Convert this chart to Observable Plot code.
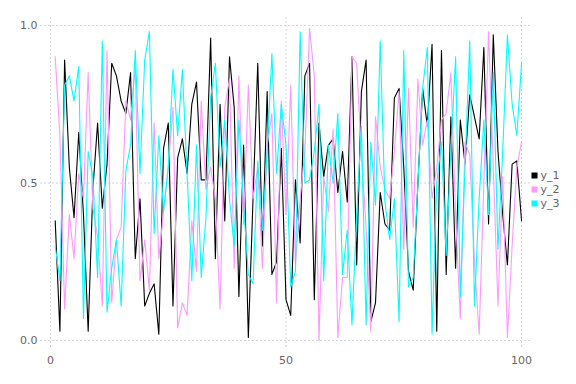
<!DOCTYPE html>
<html>
<head>
<meta charset="utf-8">
<script src="https://cdn.jsdelivr.net/npm/d3@7"></script>
<script src="https://cdn.jsdelivr.net/npm/@observablehq/plot@0.6"></script>
<style>
  html, body { margin: 0; padding: 0; background: #fff; }
  #chart { position: relative; width: 576px; height: 384px; }
</style>
</head>
<body>
<div id="chart"></div>
<script>
const seriesNames = ["y_1", "y_2", "y_3"];
const seriesColors = ["#000000", "#ff99ff", "#00ffff"];
const xTicks = [0, 50, 100];
const yTicks = [0, 0.5, 1.0];

const y1 = [0.38,0.03,0.89,0.55,0.39,0.66,0.40,0.03,0.48,0.69,
            0.42,0.56,0.88,0.84,0.76,0.72,0.85,0.26,0.45,0.11,
            0.15,0.18,0.02,0.61,0.69,0.11,0.58,0.64,0.53,0.75,
            0.82,0.51,0.51,0.96,0.26,0.75,0.38,0.90,0.74,0.14,
            0.62,0.01,0.45,0.88,0.30,0.79,0.21,0.25,0.61,0.13,
            0.08,0.51,0.31,0.84,0.88,0.13,0.69,0.52,0.62,0.64,
            0.47,0.60,0.44,0.90,0.24,0.79,0.89,0.06,0.12,0.47,
            0.37,0.35,0.77,0.80,0.55,0.22,0.16,0.50,0.80,0.68,
            0.94,0.03,0.92,0.21,0.71,0.23,0.70,0.56,0.78,0.71,
            0.64,0.93,0.37,0.97,0.60,0.40,0.24,0.56,0.57,0.38];
const y2 = [0.90,0.65,0.10,0.40,0.26,0.53,0.45,0.85,0.42,0.33,
            0.11,0.92,0.12,0.32,0.36,0.76,0.70,0.87,0.19,0.32,
            0.16,0.69,0.26,0.41,0.55,0.74,0.04,0.12,0.08,0.38,
            0.22,0.76,0.48,0.55,0.45,0.10,0.74,0.83,0.23,0.84,
            0.37,0.81,0.45,0.55,0.23,0.62,0.72,0.12,0.76,0.40,
            0.81,0.24,0.45,0.60,0.99,0.84,0.00,0.52,0.41,0.67,
            0.01,0.20,0.20,0.90,0.88,0.59,0.36,0.03,0.71,0.55,
            0.48,0.45,0.60,0.79,0.29,0.80,0.36,0.83,0.62,0.70,
            0.45,0.55,0.70,0.72,0.85,0.40,0.07,0.63,0.59,0.25,
            0.02,0.50,0.98,0.55,0.11,0.52,0.01,0.30,0.55,0.63];
const y3 = [0.30,0.19,0.81,0.84,0.76,0.87,0.07,0.60,0.52,0.20,
            0.95,0.09,0.23,0.32,0.11,0.54,0.62,0.92,0.53,0.89,
            0.98,0.34,0.65,0.41,0.55,0.86,0.65,0.86,0.53,0.19,
            0.62,0.20,0.39,0.77,0.88,0.55,0.70,0.45,0.30,0.70,
            0.43,0.21,0.18,0.57,0.35,0.60,0.91,0.53,0.75,0.62,
            0.17,0.22,0.98,0.50,0.51,0.60,0.75,0.19,0.62,0.50,
            0.72,0.21,0.35,0.05,0.40,0.68,0.05,0.63,0.43,0.95,
            0.44,0.32,0.45,0.06,0.92,0.17,0.20,0.50,0.80,0.93,
            0.02,0.50,0.63,0.27,0.60,0.90,0.14,0.55,0.95,0.11,
            0.45,0.70,0.40,0.85,0.29,0.60,0.97,0.75,0.65,0.88];

const values = [y1, y2, y3];
const data = seriesNames.flatMap((s, k) =>
  values[k].map((v, i) => ({x: i + 1, y: v, s})));

const gridColor = "#d0d0e0";
const textColor = "#6c606b";

const svg = Plot.plot({
  width: 576,
  height: 384,
  marginLeft: 40,
  marginRight: 46,
  marginTop: 17,
  marginBottom: 36,
  style: {fontFamily: "DejaVu Sans, sans-serif", fontSize: "11px", color: textColor, background: "#fff"},
  x: {domain: [-2.12, 101.9]},
  y: {domain: [-0.025, 1.025]},
  color: {domain: seriesNames, range: seriesColors},
  marks: [
    Plot.ruleY(yTicks, {stroke: gridColor, strokeDasharray: "2,2", strokeWidth: 1}),
    Plot.ruleX(xTicks, {stroke: gridColor, strokeDasharray: "2,2", strokeWidth: 1}),
    Plot.axisY(yTicks, {tickSize: 0, tickPadding: 3, tickFormat: d3.format(".1f"), label: null, fill: textColor}),
    Plot.axisX(xTicks, {tickSize: 0, tickPadding: 8, tickFormat: d => String(d), label: null, fill: textColor}),
    Plot.line(data, {x: "x", y: "y", z: "s", stroke: "s", strokeWidth: 1.1})
  ]
});

document.getElementById("chart").appendChild(svg);

// legend
const lg = d3.select(svg).append("g").attr("class", "legend").attr("text-anchor", "start");
seriesNames.forEach((name, k) => {
  const cy = 175.5 + k * 14;
  lg.append("rect").attr("x", 531.5).attr("y", cy - 3).attr("width", 6).attr("height", 6)
    .attr("fill", seriesColors[k]);
  lg.append("text").attr("x", 540.5).attr("y", cy).attr("dy", "0.35em")
    .attr("text-anchor", "start")
    .attr("fill", textColor).attr("font-size", 11).attr("font-family", "DejaVu Sans, sans-serif")
    .text(name);
});
</script>
</body>
</html>
